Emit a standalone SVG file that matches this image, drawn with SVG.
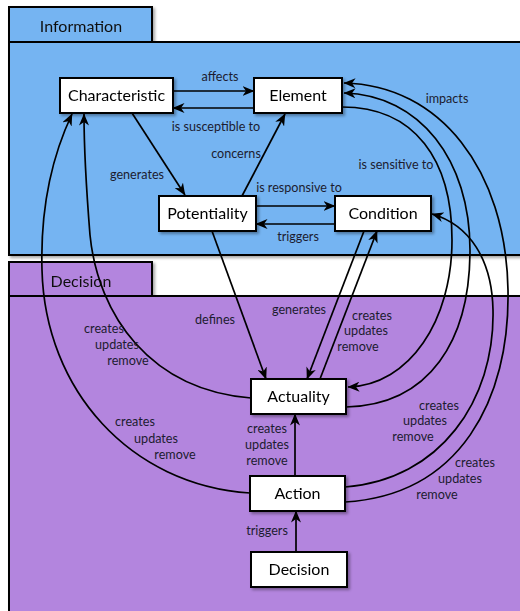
<svg xmlns="http://www.w3.org/2000/svg" width="520" height="611" viewBox="0 0 520 611">
<style>
.pkg{stroke:#000;stroke-width:2}
.info{fill:#75b4f2}
.dec{fill:#b385de}
.pname{font-family:Lato,"Open Sans",sans-serif;font-size:16px;fill:#111}
.node rect{fill:#fff;stroke:#000;stroke-width:2}
.node text{font-family:Lato,"Open Sans",sans-serif;font-size:16px;fill:#000;text-anchor:middle}
.conn path{fill:none;stroke:#000;stroke-width:1.7}
.lbl{font-family:Lato,"Open Sans",sans-serif;font-size:12.6px;fill:#1c1c30;text-anchor:middle}
</style>
<defs>
<marker id="arr" viewBox="0 0 12 10" refX="11.5" refY="5" markerWidth="12" markerHeight="10" orient="auto" markerUnits="userSpaceOnUse">
<path d="M0,0 L12,5 L0,10 L3.5,5 z" fill="#000"/>
</marker>
<filter id="sh" x="-20%" y="-20%" width="150%" height="160%">
<feDropShadow dx="2" dy="2" stdDeviation="1.5" flood-color="#000" flood-opacity="0.35"/>
</filter>
</defs>
<rect width="520" height="611" fill="#fff"/>
<g id="pkg-information" filter="url(#sh)">
<rect class="pkg info" x="9" y="7" width="143" height="35"/>
<rect class="pkg info" x="9" y="42" width="520" height="213"/>
<text class="pname" x="81" y="32" text-anchor="middle">Information</text>
</g>
<g id="pkg-decision" filter="url(#sh)">
<rect class="pkg dec" x="9" y="262" width="143" height="34"/>
<rect class="pkg dec" x="9" y="296" width="520" height="330"/>
<text class="pname" x="81" y="287" text-anchor="middle">Decision</text>
</g>
<g id="connectors" class="conn">
<path d="M173,91 L254,91" marker-end="url(#arr)"/>
<path d="M254,108 L173,108" marker-end="url(#arr)"/>
<path d="M256,206 L335,206" marker-end="url(#arr)"/>
<path d="M335,224 L256,224" marker-end="url(#arr)"/>
<path d="M132,113 L185,195" marker-end="url(#arr)"/>
<path d="M242,196 L285,114" marker-end="url(#arr)"/>
<path d="M212,231 L266,379" marker-end="url(#arr)"/>
<path d="M364,231 L307,379" marker-end="url(#arr)"/>
<path d="M320,379 L377,231" marker-end="url(#arr)"/>
<path d="M295,476 L295,414" marker-end="url(#arr)"/>
<path d="M296,552 L296,511" marker-end="url(#arr)"/>
<path d="M342,107 C415,107 452,160 452,240 C452,320 410,385 348,387" marker-end="url(#arr)"/>
<path d="M346,407 C430,405 470,340 470,250 C470,160 420,95 344,93" marker-end="url(#arr)"/>
<path d="M345,487 C440,480 495,400 493,310 C492,260 470,225 432,214" marker-end="url(#arr)"/>
<path d="M345,502 C460,495 510,400 508,290 C506,170 440,85 344,83" marker-end="url(#arr)"/>
<path d="M251,398 C150,390 98,315 90,235 C86,185 84,140 84,114" marker-end="url(#arr)"/>
<path d="M250,493 C130,485 45,390 42,270 C40,200 55,150 72,114" marker-end="url(#arr)"/>
</g>
<g id="labels">
<text class="lbl" x="220" y="81">affects</text>
<text class="lbl" x="216" y="131">is susceptible to</text>
<text class="lbl" x="137" y="179">generates</text>
<text class="lbl" x="236" y="158">concerns</text>
<text class="lbl" x="299" y="192">is responsive to</text>
<text class="lbl" x="298" y="241">triggers</text>
<text class="lbl" x="396" y="169">is sensitive to</text>
<text class="lbl" x="447" y="103">impacts</text>
<text class="lbl" x="215" y="324">defines</text>
<text class="lbl" x="299" y="314">generates</text>
<text class="lbl" x="372" y="320">creates</text>
<text class="lbl" x="366" y="335">updates</text>
<text class="lbl" x="358" y="351">remove</text>
<text class="lbl" x="104" y="333">creates</text>
<text class="lbl" x="117" y="349">updates</text>
<text class="lbl" x="128" y="365">remove</text>
<text class="lbl" x="135" y="426">creates</text>
<text class="lbl" x="156" y="443">updates</text>
<text class="lbl" x="175" y="459">remove</text>
<text class="lbl" x="267" y="433">creates</text>
<text class="lbl" x="267" y="449">updates</text>
<text class="lbl" x="267" y="465">remove</text>
<text class="lbl" x="439" y="410">creates</text>
<text class="lbl" x="425" y="425">updates</text>
<text class="lbl" x="413" y="441">remove</text>
<text class="lbl" x="475" y="467">creates</text>
<text class="lbl" x="460" y="483">updates</text>
<text class="lbl" x="437" y="499">remove</text>
<text class="lbl" x="267" y="535">triggers</text>
</g>
<g id="node-characteristic" class="node" filter="url(#sh)">
<rect x="60" y="78" width="113" height="35"/>
<text x="116.5" y="101">Characteristic</text>
</g>
<g id="node-element" class="node" filter="url(#sh)">
<rect x="254" y="78" width="88" height="35"/>
<text x="298" y="101">Element</text>
</g>
<g id="node-potentiality" class="node" filter="url(#sh)">
<rect x="159" y="196" width="97" height="35"/>
<text x="207.5" y="219">Potentiality</text>
</g>
<g id="node-condition" class="node" filter="url(#sh)">
<rect x="335" y="196" width="96" height="35"/>
<text x="383" y="219">Condition</text>
</g>
<g id="node-actuality" class="node" filter="url(#sh)">
<rect x="251" y="379" width="95" height="35"/>
<text x="298.5" y="402">Actuality</text>
</g>
<g id="node-action" class="node" filter="url(#sh)">
<rect x="250" y="476" width="95" height="35"/>
<text x="297.5" y="499">Action</text>
</g>
<g id="node-decision" class="node" filter="url(#sh)">
<rect x="251" y="552" width="96" height="35"/>
<text x="299" y="575">Decision</text>
</g>
</svg>
